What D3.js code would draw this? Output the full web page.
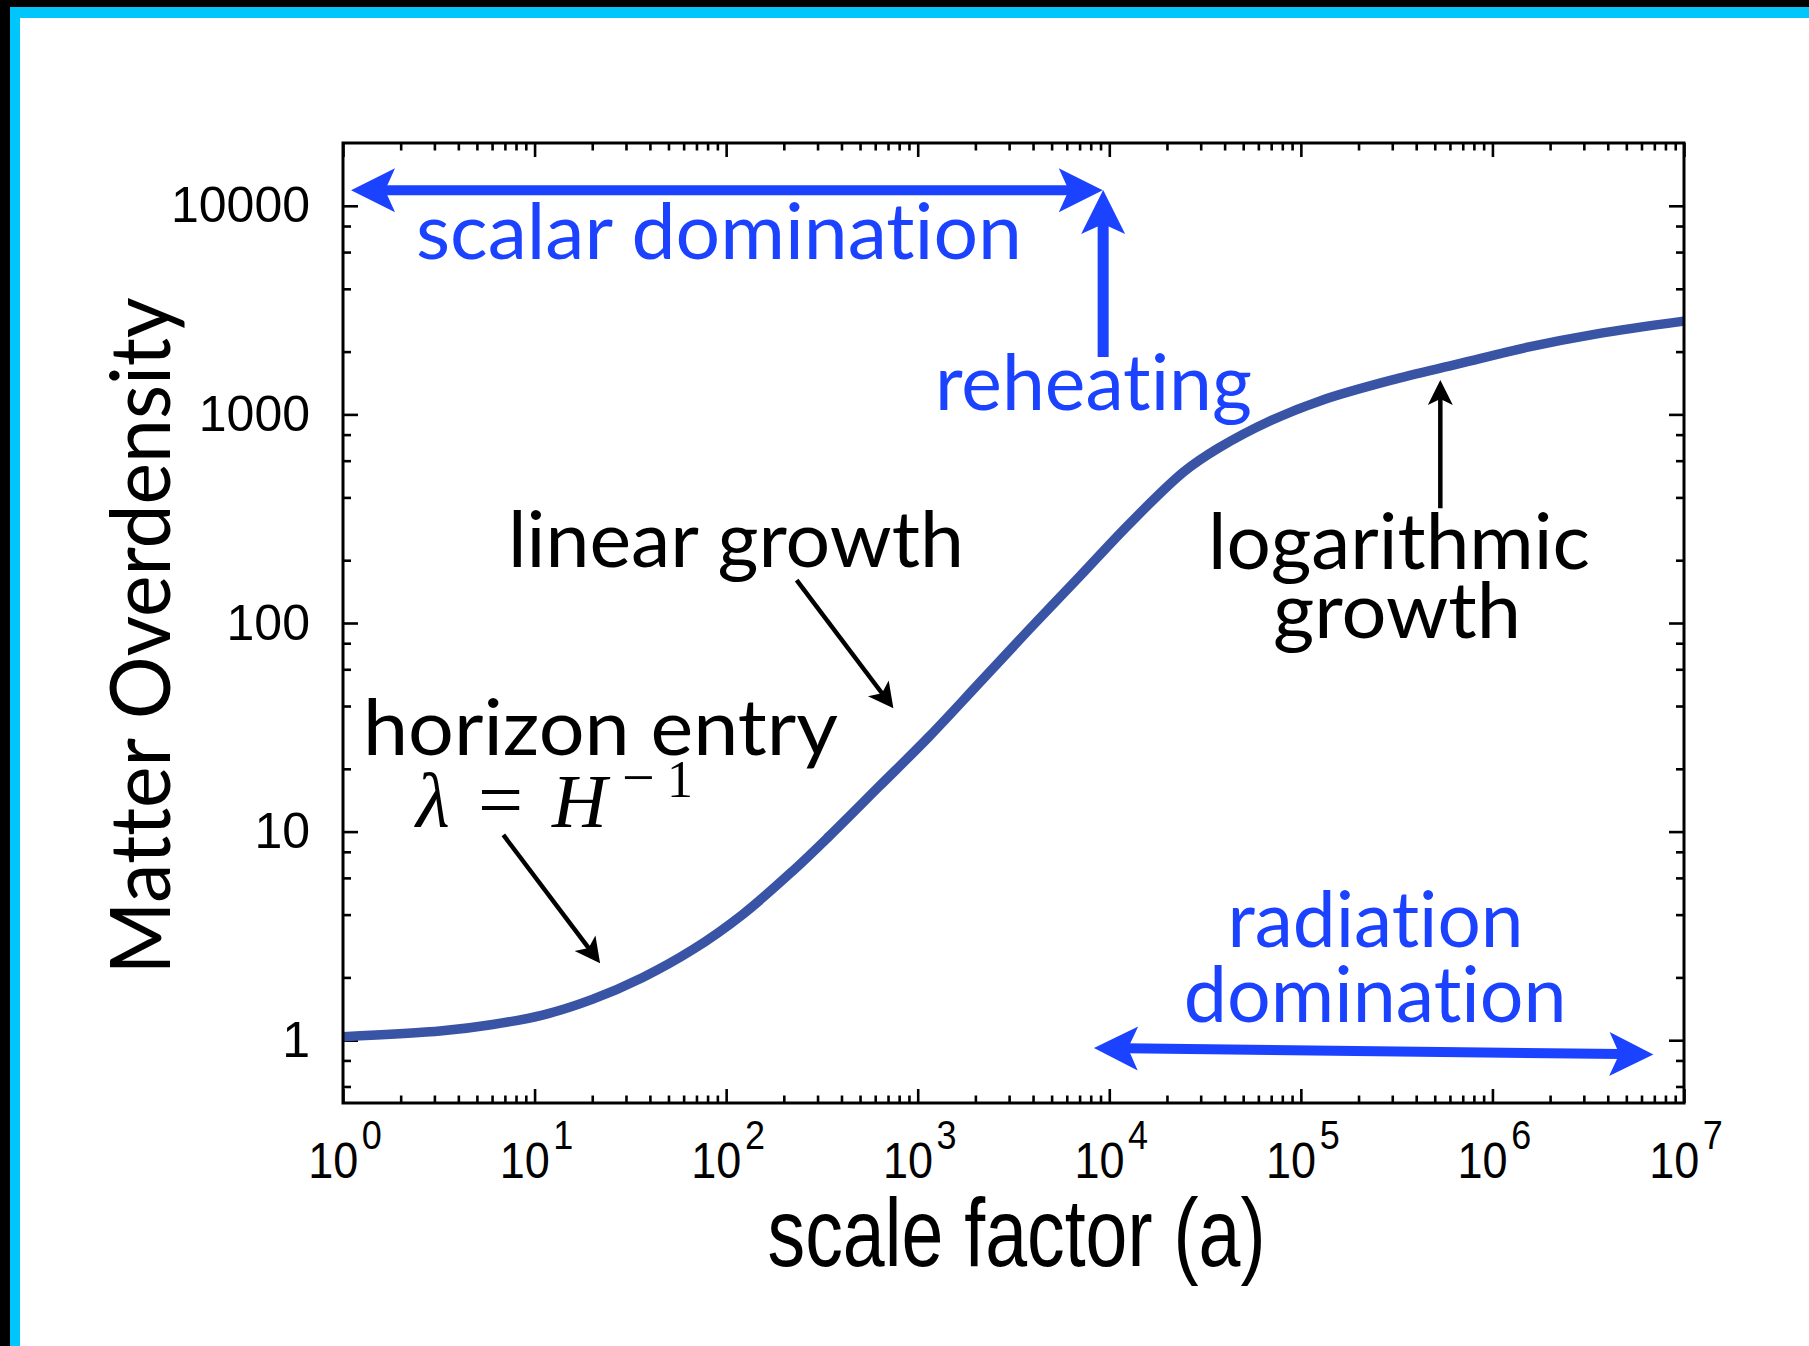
<!DOCTYPE html>
<html>
<head>
<meta charset="utf-8">
<script src="https://cdn.jsdelivr.net/npm/d3@7"></script>
<style>
  html, body { margin: 0; padding: 0; background: #000; }
  svg { display: block; }
  text { font-variant-ligatures: none; }
</style>
</head>
<body>
<svg id="chart" width="1809" height="1346"></svg>
<script>
// Growth of a sub-horizon matter perturbation through an early scalar era,
// reheating and radiation domination.
const scaleFactor = [1, 3.3, 6.05, 11, 20, 36.7, 67, 122, 222, 347, 631, 1150, 2090, 3800,
  7000, 12700, 24500, 37100, 68900, 128000, 293000, 671000, 1530000, 3510000, 10000000];
const overdensity = [1.04, 1.11, 1.19, 1.32, 1.57, 2.0, 2.72, 4.01, 6.46, 9.55, 16.5, 28.6, 51.4, 92.7,
  167, 298, 531, 689, 930, 1167, 1455, 1750, 2099, 2432, 2800];

const yTicks = [1, 10, 100, 1000, 10000];
const yTickLabels = ["1", "10", "100", "1000", "10000"];
const yMinorMantissas = [2, 4, 6, 8];
const xTickExponents = [0, 1, 2, 3, 4, 5, 6, 7];
const xMinorMantissas = [2, 3, 4, 5, 6, 7, 8, 9];

const BLUE = "#1b42ff";
const CURVE = "#3953a5";

const svg = d3.select("#chart");

// slide frame: black edge, cyan rule, white page
svg.append("rect").attr("width", 1809).attr("height", 1346).attr("fill", "#000");
svg.append("rect").attr("x", 10).attr("y", 7).attr("width", 1799).attr("height", 1339).attr("fill", "#00c6fc");
svg.append("rect").attr("x", 20).attr("y", 18).attr("width", 1789).attr("height", 1328).attr("fill", "#fff");

const x = d3.scaleLog().domain([1, 1e7]).range([343, 1684]);
const y = d3.scaleLog().domain([0.5, 20000]).range([1103, 143]);
const [x0, x1] = x.range();
const [y0, y1] = y.range();

const g = svg.append("g");

// tick values
const xMajor = xTickExponents.map(k => Math.pow(10, k));
const xMinor = [];
for (let k = 0; k < 7; k++) xMinorMantissas.forEach(m => xMinor.push(m * Math.pow(10, k)));
const yMinor = [];
for (let k = -1; k <= 4; k++) yMinorMantissas.forEach(m => {
  const v = m * Math.pow(10, k);
  if (v > y.domain()[0] && v < y.domain()[1]) yMinor.push(v);
});

function tickAxis(axisFn, scale, values, len, tx, ty) {
  g.append("g")
    .attr("transform", `translate(${tx},${ty})`)
    .call(axisFn(scale).tickValues(values).tickSizeInner(-len).tickSizeOuter(0).tickFormat(""))
    .call(s => s.select(".domain").remove())
    .call(s => s.selectAll("line").attr("stroke", "#000").attr("stroke-width", 2.6));
}
// inward ticks on all four sides
tickAxis(d3.axisBottom, x, xMajor, 14, 0, y0);
tickAxis(d3.axisBottom, x, xMinor, 7.5, 0, y0);
tickAxis(d3.axisTop, x, xMajor, 14, 0, y1);
tickAxis(d3.axisTop, x, xMinor, 7.5, 0, y1);
tickAxis(d3.axisLeft, y, yTicks, 15, x0, 0);
tickAxis(d3.axisLeft, y, yMinor, 8, x0, 0);
tickAxis(d3.axisRight, y, yTicks, 15, x1, 0);
tickAxis(d3.axisRight, y, yMinor, 8, x1, 0);

// y tick labels
g.append("g")
  .attr("transform", `translate(${x0},0)`)
  .call(d3.axisLeft(y).tickValues(yTicks).tickSize(0).tickPadding(33)
    .tickFormat((d, i) => yTickLabels[i]))
  .call(s => s.select(".domain").remove())
  .call(s => s.selectAll("text")
    .attr("fill", "#000")
    .style("font-family", "'Liberation Sans', Arial, sans-serif")
    .style("font-size", "50px"));

// x tick labels: 10 with a superscript exponent
const xl = g.append("g");
xTickExponents.forEach(k => {
  const t = xl.append("text")
    .attr("transform", `translate(${x(Math.pow(10, k)) + 2},1178) scale(0.9,1)`)
    .attr("text-anchor", "middle")
    .style("font-family", "'Liberation Sans', Arial, sans-serif")
    .attr("fill", "#000");
  t.append("tspan").style("font-size", "50px").text("10");
  t.append("tspan").attr("dx", 4).attr("dy", -29).style("font-size", "40px").text(k);
});

// axis titles
svg.append("text")
  .attr("x", (x0 + x1) / 2 + 3).attr("y", 1266)
  .attr("text-anchor", "middle")
  .attr("textLength", 498).attr("lengthAdjust", "spacingAndGlyphs")
  .style("font-family", "'Liberation Sans', Arial, sans-serif")
  .style("font-size", "96px")
  .attr("fill", "#000")
  .text("scale factor (a)");

svg.append("text")
  .attr("transform", "translate(170,636) rotate(-90)")
  .attr("text-anchor", "middle")
  .attr("textLength", 677).attr("lengthAdjust", "spacingAndGlyphs")
  .style("font-family", "Lato, 'Open Sans', sans-serif")
  .style("font-size", "84px")
  .attr("fill", "#000")
  .text("Matter Overdensity");

// the growth curve
const series = scaleFactor.map((a, i) => ({ a, d: overdensity[i] }));
g.append("path")
  .datum(series)
  .attr("fill", "none")
  .attr("stroke", CURVE)
  .attr("stroke-width", 9.5)
  .attr("d", d3.line().x(d => x(d.a)).y(d => y(d.d)).curve(d3.curveCatmullRom.alpha(0.5)));

// plot frame
g.append("rect")
  .attr("x", x0).attr("y", y1)
  .attr("width", x1 - x0).attr("height", y0 - y1)
  .attr("fill", "none").attr("stroke", "#000").attr("stroke-width", 3);

// annotations, positioned in decades of (a, overdensity)
const px = (la, ld) => [x(Math.pow(10, la)), y(Math.pow(10, ld))];

const notes = [
  { text: "scalar domination", at: [0.381, 3.747], anchor: "start", width: 606, color: BLUE },
  { text: "reheating", at: [3.09, 3.021], anchor: "start", width: 317, color: BLUE },
  { text: "linear growth", at: [0.861, 2.268], anchor: "start", width: 456, color: "#000" },
  { text: "logarithmic", at: [5.512, 2.259], anchor: "middle", width: 382, color: "#000" },
  { text: "growth", at: [5.502, 1.928], anchor: "middle", width: 248, color: "#000" },
  { text: "horizon entry", at: [0.104, 1.365], anchor: "start", width: 475, color: "#000" },
  { text: "radiation", at: [5.39, 0.445], anchor: "middle", width: 296, color: BLUE },
  { text: "domination", at: [5.388, 0.089], anchor: "middle", width: 383, color: BLUE }
];
const ann = svg.append("g");
notes.forEach(n => {
  const [tx, ty] = px(...n.at);
  ann.append("text")
    .attr("x", tx).attr("y", ty)
    .attr("text-anchor", n.anchor)
    .attr("textLength", n.width).attr("lengthAdjust", "spacingAndGlyphs")
    .style("font-family", "Lato, 'Open Sans', sans-serif")
    .style("font-size", "78px")
    .attr("fill", n.color)
    .text(n.text);
});

// lambda = H^-1
(function () {
  const [lx, ly] = px(0.3915, 1.0235);
  const family = "'Liberation Serif', 'DejaVu Serif', serif";
  const piece = (dx, dy, txt, size, italic) => ann.append("text")
    .attr("x", lx + dx).attr("y", ly + dy)
    .style("font-family", family)
    .style("font-size", size + "px")
    .style("font-style", italic ? "italic" : "normal")
    .attr("fill", "#000")
    .text(txt);
  piece(-2, 0, "\u03bb", 78, true);
  piece(60, 0, "=", 80, false);
  piece(134, 0, "H", 76, true);
  piece(204, -30, "\u2212", 58, false);
  piece(249, -30, "1", 52, false);
})();

// arrows
const arrows = [
  { from: [0.042, 4.074], to: [3.966, 4.074], both: true, color: BLUE, w: 10, L: 44, W: 22, N: 34 },
  { from: [3.968, 3.275], to: [3.968, 4.076], both: false, color: BLUE, w: 11, L: 44, W: 22, N: 34 },
  { from: [3.92, -0.037], to: [6.84, -0.068], both: true, color: BLUE, w: 10, L: 44, W: 22, N: 34 },
  { from: [2.368, 2.206], to: [2.873, 1.591], both: false, color: "#000", w: 4.5, L: 25, W: 13, N: 19 },
  { from: [5.728, 2.55], to: [5.728, 3.165], both: false, color: "#000", w: 4.5, L: 25, W: 12.5, N: 19 },
  { from: [0.837, 0.984], to: [1.342, 0.369], both: false, color: "#000", w: 4.5, L: 25, W: 13, N: 19 }
];

function head(tip, u, a) {
  const nx = -u[1], ny = u[0];
  const b = [tip[0] - a.L * u[0], tip[1] - a.L * u[1]];
  const pts = [
    tip,
    [b[0] + a.W * nx, b[1] + a.W * ny],
    [tip[0] - a.N * u[0], tip[1] - a.N * u[1]],
    [b[0] - a.W * nx, b[1] - a.W * ny]
  ];
  ann.append("path").attr("d", "M" + pts.map(p => p.join(",")).join("L") + "Z").attr("fill", a.color);
}

arrows.forEach(a => {
  const p0 = px(...a.from), p1 = px(...a.to);
  const dx = p1[0] - p0[0], dy = p1[1] - p0[1];
  const len = Math.hypot(dx, dy);
  const u = [dx / len, dy / len];
  const e = a.N - 2;
  const s0 = a.both ? [p0[0] + e * u[0], p0[1] + e * u[1]] : p0;
  const s1 = [p1[0] - e * u[0], p1[1] - e * u[1]];
  ann.append("line")
    .attr("x1", s0[0]).attr("y1", s0[1]).attr("x2", s1[0]).attr("y2", s1[1])
    .attr("stroke", a.color).attr("stroke-width", a.w);
  head(p1, u, a);
  if (a.both) head(p0, [-u[0], -u[1]], a);
});
</script>
</body>
</html>
